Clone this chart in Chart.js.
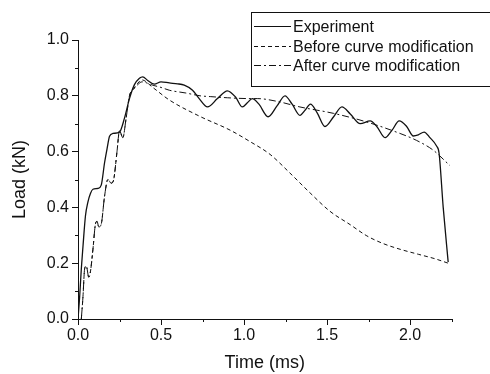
<!DOCTYPE html>
<html>
<head>
<meta charset="utf-8">
<script src="https://cdn.jsdelivr.net/npm/chart.js@4.4.1/dist/chart.umd.min.js"></script>
<style>
  html, body { margin: 0; padding: 0; background: #fff; }
  #wrap { width: 490px; height: 374px; }
</style>
</head>
<body>
<div id="wrap"><canvas id="c" width="490" height="374"></canvas></div>
<script>
const seriesNames = ["Experiment", "Before curve modification", "After curve modification"];

// Experiment (time ms, load kN)
const expT = [0, 0.01, 0.02, 0.03, 0.045, 0.06, 0.075, 0.09, 0.12, 0.14, 0.16, 0.175, 0.19, 0.21, 0.25, 0.28, 0.31, 0.34, 0.37, 0.39,
  0.42, 0.46, 0.5, 0.55, 0.6, 0.64, 0.69, 0.73, 0.78, 0.84, 0.9, 0.95, 0.99, 1.02, 1.05, 1.09, 1.145, 1.2, 1.247, 1.29,
  1.337, 1.37, 1.40, 1.44, 1.488, 1.54, 1.59, 1.64, 1.70, 1.76, 1.80, 1.85, 1.89, 1.935, 1.98, 2.02, 2.05, 2.085, 2.12, 2.16,
  2.175, 2.2, 2.23];
const expLoad = [0, 0.08, 0.18, 0.26, 0.37, 0.42, 0.45, 0.465, 0.468, 0.48, 0.56, 0.61, 0.655, 0.665, 0.67, 0.72, 0.79, 0.84, 0.863, 0.868,
  0.855, 0.842, 0.85, 0.846, 0.843, 0.838, 0.82, 0.79, 0.76, 0.79, 0.818, 0.795, 0.76, 0.775, 0.79, 0.77, 0.725, 0.765, 0.80, 0.77,
  0.73, 0.75, 0.77, 0.74, 0.69, 0.725, 0.76, 0.735, 0.70, 0.71, 0.69, 0.65, 0.675, 0.71, 0.69, 0.656, 0.66, 0.67, 0.65, 0.62,
  0.595, 0.4, 0.204];

// Before curve modification
const beforeT = [0.02, 0.03, 0.04, 0.05, 0.065, 0.075, 0.09, 0.105, 0.115, 0.125, 0.14, 0.16, 0.18, 0.2, 0.215, 0.235, 0.25, 0.27, 0.29, 0.31,
  0.33, 0.36, 0.385, 0.45, 0.55, 0.735, 0.916, 1.036, 1.157, 1.277, 1.398, 1.518, 1.64, 1.74, 1.84, 1.94, 2.05, 2.15, 2.23];
const beforeLoad = [0, 0.08, 0.18, 0.19, 0.15, 0.17, 0.25, 0.34, 0.35, 0.33, 0.34, 0.44, 0.50, 0.487, 0.50, 0.60, 0.675, 0.65, 0.72, 0.80,
  0.82, 0.845, 0.857, 0.83, 0.785, 0.726, 0.677, 0.636, 0.59, 0.523, 0.452, 0.386, 0.338, 0.298, 0.27, 0.25, 0.232, 0.216, 0.20];

// After curve modification
const afterT = [0.02, 0.03, 0.04, 0.05, 0.065, 0.075, 0.09, 0.105, 0.115, 0.125, 0.14, 0.16, 0.18, 0.2, 0.215, 0.235, 0.25, 0.27, 0.29, 0.31,
  0.33, 0.36, 0.385, 0.45, 0.5, 0.55, 0.65, 0.735, 0.8, 0.9, 1.036, 1.08, 1.2, 1.337, 1.54, 1.74, 1.94, 2.04, 2.14, 2.24];
const afterLoad = [0, 0.08, 0.18, 0.19, 0.15, 0.17, 0.25, 0.34, 0.35, 0.33, 0.34, 0.44, 0.50, 0.487, 0.50, 0.60, 0.675, 0.65, 0.72, 0.80,
  0.82, 0.84, 0.85, 0.838, 0.83, 0.82, 0.81, 0.80, 0.797, 0.793, 0.79, 0.79, 0.78, 0.76, 0.737, 0.706, 0.665, 0.64, 0.605, 0.55];

const xTicks = [0, 0.5, 1.0, 1.5, 2.0];
const yTicks = [0, 0.2, 0.4, 0.6, 0.8, 1.0];

const pts = (xs, ys) => xs.map((x, i) => ({ x, y: ys[i] }));
const FONT = "'Liberation Sans', Arial, sans-serif";
const INK = "#111";

// shorter minor ticks + boxed legend
const extras = {
  id: "extras",
  afterDraw(chart) {
    const ctx = chart.ctx;
    const xs = chart.scales.x, ys = chart.scales.y;
    ctx.save();
    ctx.strokeStyle = INK;
    ctx.lineWidth = 1;
    xs.ticks.forEach(t => {
      if (xTicks.some(v => Math.abs(v - t.value) < 1e-6)) return;
      const px = Math.round(xs.getPixelForValue(t.value)) + 0.5;
      ctx.beginPath(); ctx.moveTo(px, xs.top); ctx.lineTo(px, xs.top + 3); ctx.stroke();
    });
    ys.ticks.forEach(t => {
      if (yTicks.some(v => Math.abs(v - t.value) < 1e-6)) return;
      const py = Math.round(ys.getPixelForValue(t.value)) + 0.5;
      ctx.beginPath(); ctx.moveTo(ys.right, py); ctx.lineTo(ys.right - 3, py); ctx.stroke();
    });

    ctx.strokeRect(251.5, 12.5, 245, 74);
    ctx.font = "16px " + FONT;
    ctx.fillStyle = INK;
    ctx.textBaseline = "middle";
    chart.data.datasets.forEach((ds, i) => {
      const y = Math.round(26 + i * 19.7) + 0.5;
      ctx.setLineDash(ds.borderDash || []);
      ctx.beginPath(); ctx.moveTo(254, y); ctx.lineTo(291, y); ctx.stroke();
      ctx.setLineDash([]);
      ctx.fillText(ds.label, 293, y + 1);
    });
    ctx.restore();
  }
};

new Chart(document.getElementById("c"), {
  type: "line",
  data: {
    datasets: [
      { label: seriesNames[0], data: pts(expT, expLoad), borderColor: INK, borderWidth: 1.3, borderDash: [] },
      { label: seriesNames[1], data: pts(beforeT, beforeLoad), borderColor: INK, borderWidth: 1, borderDash: [4, 3] },
      { label: seriesNames[2], data: pts(afterT, afterLoad), borderColor: INK, borderWidth: 1, borderDash: [7, 3, 2, 3] }
    ]
  },
  options: {
    responsive: false,
    animation: false,
    events: [],
    layout: { padding: { top: 40, right: 38.5, left: 0, bottom: 0 } },
    elements: {
      point: { radius: 0 },
      line: { cubicInterpolationMode: "monotone", fill: false }
    },
    plugins: { legend: { display: false }, tooltip: { enabled: false } },
    scales: {
      x: {
        type: "linear", min: 0, max: 2.25,
        afterFit: s => { s.height = 55; },
        border: { display: true, color: INK, width: 1 },
        grid: { drawOnChartArea: false, tickLength: 6, color: c => xTicks.some(v => Math.abs(v - c.tick.value) < 1e-6) ? INK : "rgba(0,0,0,0)" },
        ticks: {
          stepSize: 0.25, color: INK, padding: 1, maxRotation: 0, autoSkip: false,
          font: { family: FONT, size: 16 },
          callback: v => xTicks.some(t => Math.abs(t - v) < 1e-6) ? v.toFixed(1) : ""
        },
        title: { display: true, text: "Time (ms)", color: INK, font: { family: FONT, size: 18 }, padding: { top: 0, bottom: 0 } }
      },
      y: {
        type: "linear", min: 0, max: 1.0,
        afterFit: s => { s.width = 78; },
        border: { display: true, color: INK, width: 1 },
        grid: { drawOnChartArea: false, tickLength: 6, color: c => yTicks.some(v => Math.abs(v - c.tick.value) < 1e-6) ? INK : "rgba(0,0,0,0)" },
        ticks: {
          stepSize: 0.1, color: INK, padding: 3, autoSkip: false,
          font: { family: FONT, size: 16 },
          callback: v => yTicks.some(t => Math.abs(t - v) < 1e-6) ? v.toFixed(1) : ""
        },
        title: { display: true, text: "Load (kN)", color: INK, font: { family: FONT, size: 18 }, padding: { top: 9, bottom: 0 } }
      }
    }
  },
  plugins: [extras]
});
</script>
</body>
</html>
